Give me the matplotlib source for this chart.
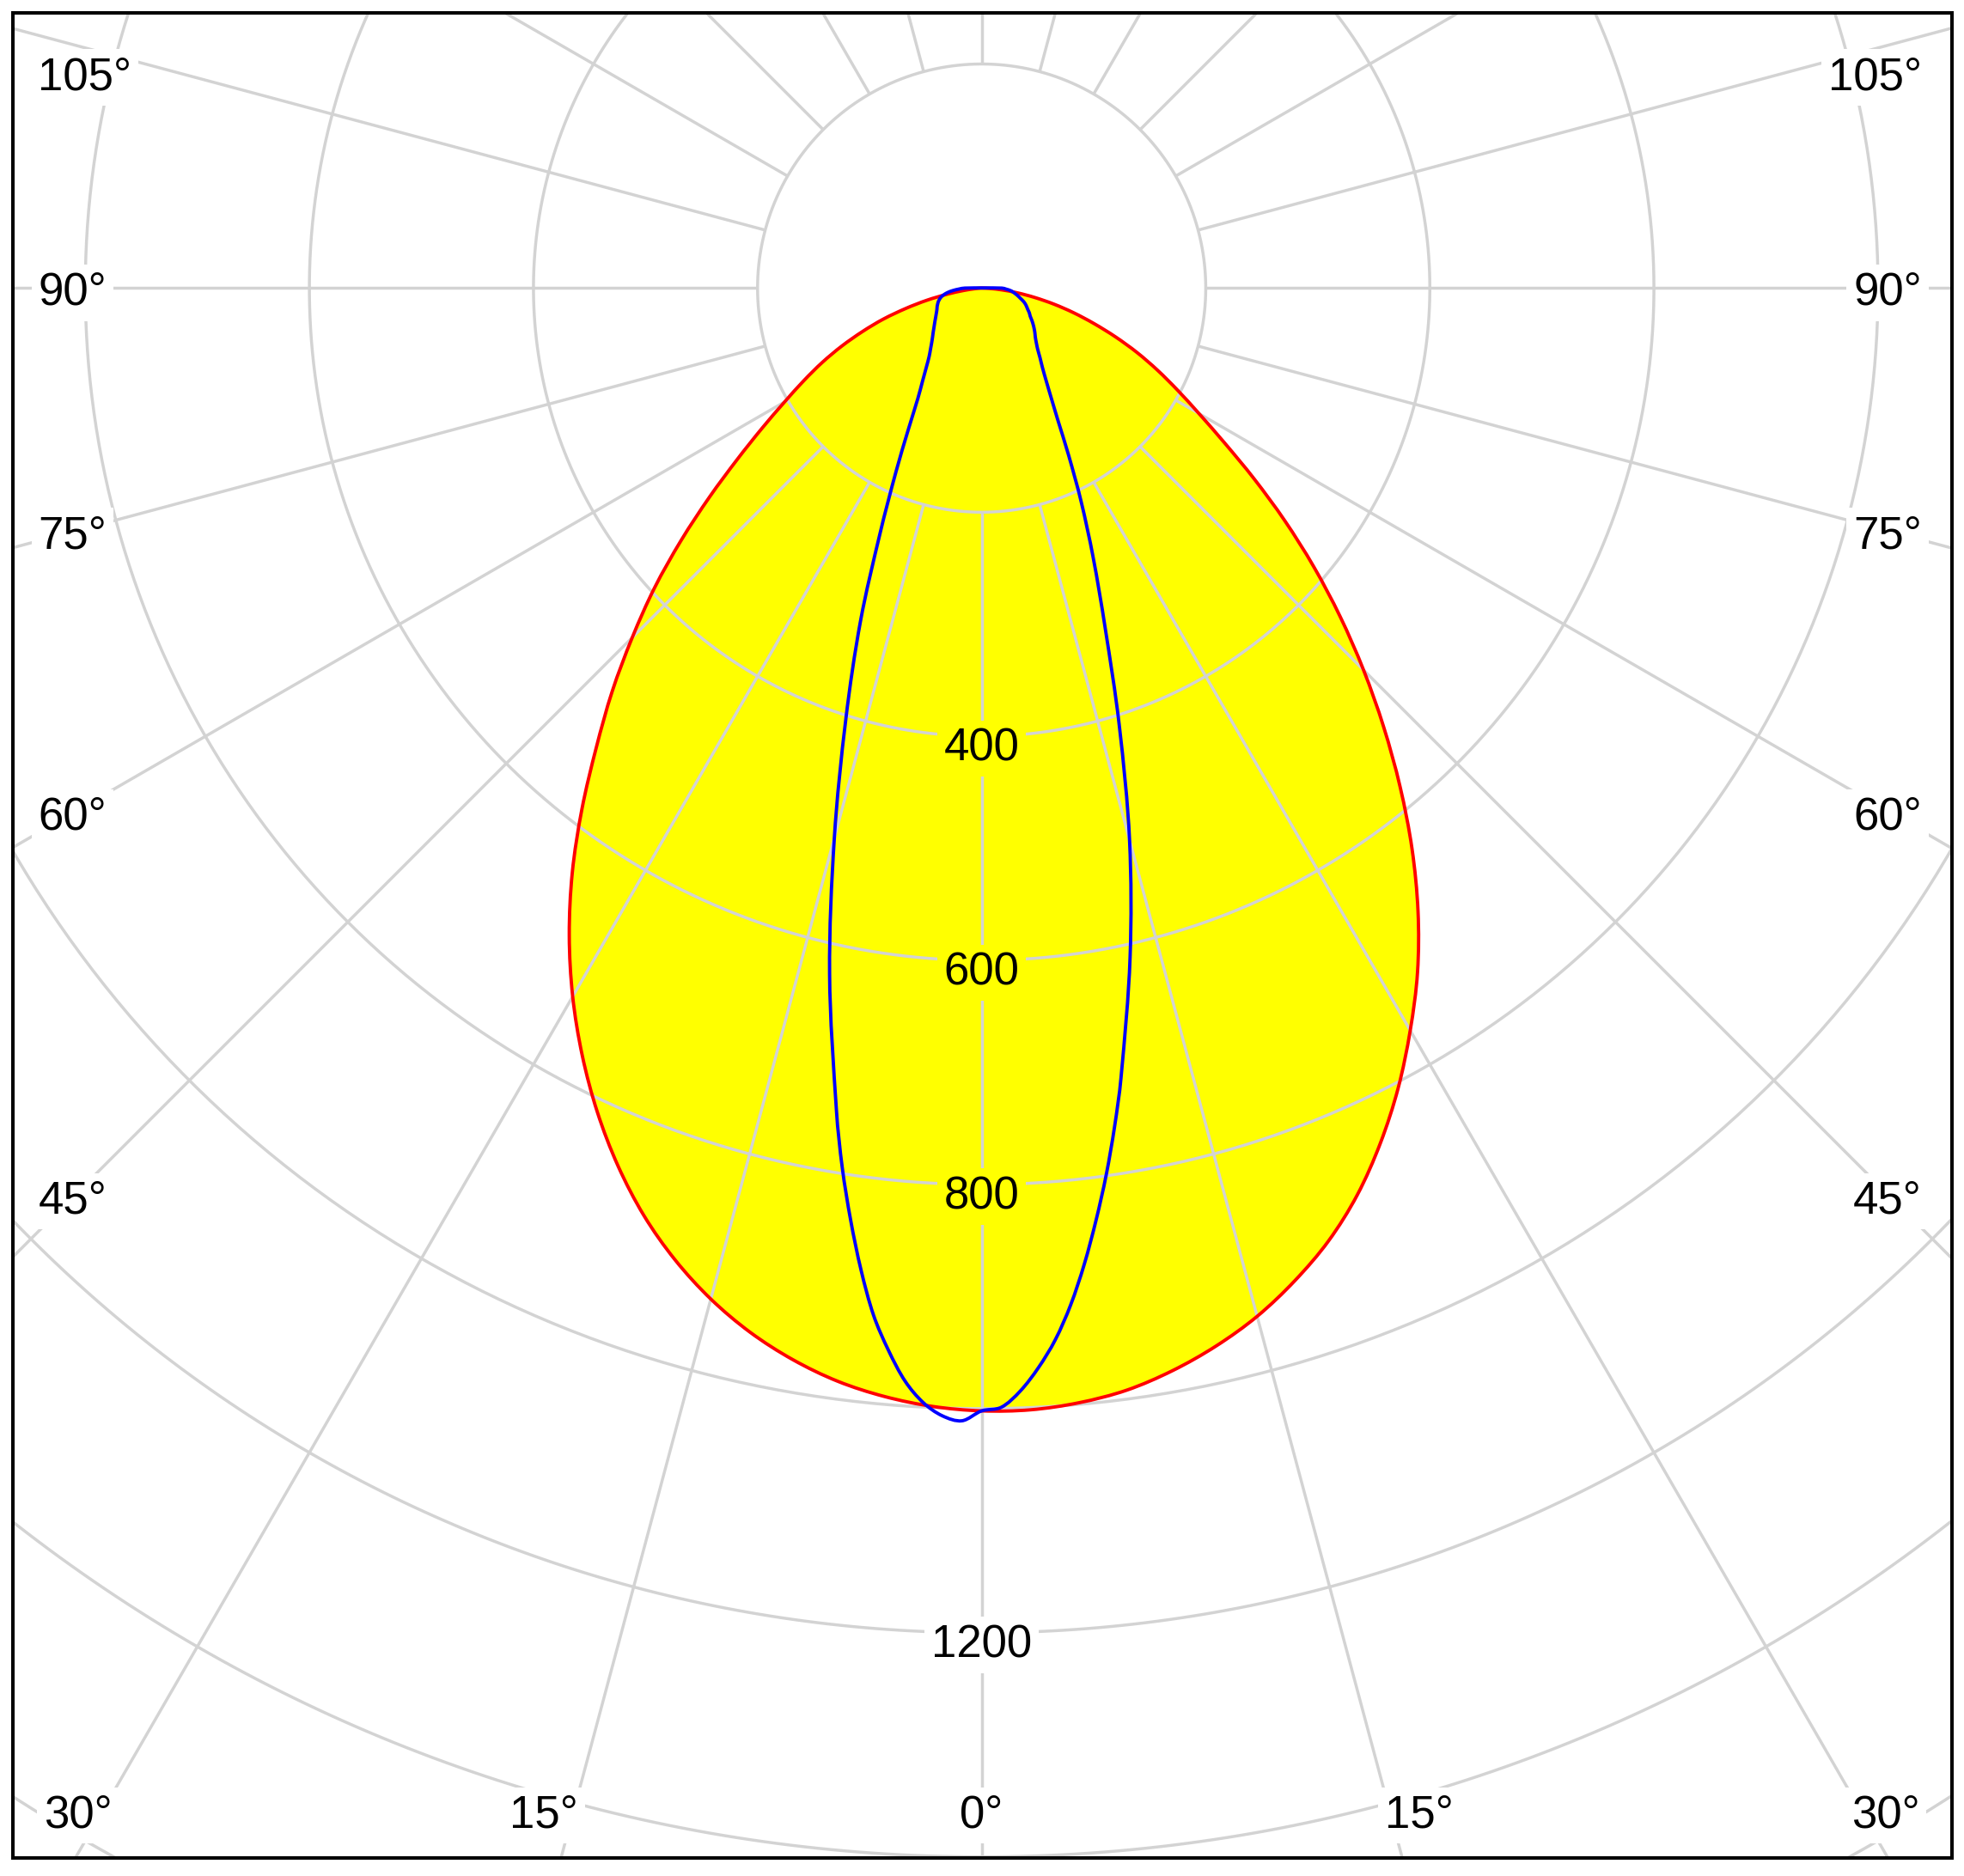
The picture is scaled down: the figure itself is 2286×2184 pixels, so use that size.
import numpy as np
import matplotlib
matplotlib.use('Agg')
import matplotlib.pyplot as plt
from matplotlib.path import Path
from matplotlib.patches import PathPatch

plt.rcParams['font.family'] = ['Liberation Sans', 'DejaVu Sans']

# gamma angles (deg from nadir) and intensities in cd
red_angles = np.arange(0, 90.1, 2.5)
red_right = [1002, 1002, 998.5, 992, 981, 967, 950, 929, 905, 876, 842, 805, 765,
             724, 679, 631, 581, 531, 482, 434, 387, 341, 297, 257, 224, 197, 173,
             150, 127, 105, 85, 66, 48, 32, 18, 7, 0]
red_left = [1002, 999, 993, 984, 971, 954.5, 934, 909.5, 881, 848, 811.5, 772, 730,
            685, 637, 586, 535, 488, 441, 396, 350, 306, 266, 232, 203, 179, 157,
            135, 113, 92, 70, 50, 31, 16, 6, 1.5, 0]

blue_angles = [0, 1, 2, 3, 4, 5, 6, 7, 8, 9, 10, 12.5, 15, 17.5, 20, 22.5, 25, 27.5,
               30, 32.5, 35, 37.5, 40, 42.5, 45, 47.5, 50, 52.5, 55, 57.5, 60, 62.5,
               65, 67.5, 70, 72.5, 75, 77.5, 80, 82.5, 85, 87.5, 90]
blue_right = [1002, 999, 985, 965, 941, 911, 876, 838, 799, 758, 716, 612, 510,
              408, 322, 260, 210, 168, 136, 115, 100, 89, 81, 74, 69, 65, 62, 59,
              56, 53, 50, 48, 45.5, 43.5, 41.5, 39, 36, 33.5, 31, 28.5, 26, 22, 18]
blue_left = [1002, 1011, 1007, 996, 978, 952, 922, 883, 840, 795, 746, 627, 508,
             403, 316, 237, 181, 141, 114, 98, 86, 77, 71, 66, 62, 58.7, 55.7, 53.1,
             50.8, 48.7, 46.9, 45.3, 44, 43, 41.8, 40.6, 39, 37.1, 34.3, 30.8, 26.1,
             20.5, 15]

rings = [200, 400, 600, 800, 1000, 1200, 1400, 1600, 1800]
ring_labels = [400, 600, 800, 1200]
spoke_angles = np.arange(0, 360, 15)
angle_labels = [0, 15, 30, 45, 60, 75, 90, 105]

xmin, xmax, ymin, ymax = -865, 866, -1401, 246


def outline(angles, right, left):
    th = np.radians(angles)
    r_r = np.array(right, dtype=float)
    r_l = np.array(left, dtype=float)
    x = np.concatenate([r_r * np.sin(th), (-r_l * np.sin(th))[::-1]])
    y = np.concatenate([-r_r * np.cos(th), (-r_l * np.cos(th))[::-1]])
    return x, y


def smooth_path(x, y):
    # closed curve through the points, drawn with cubic bezier segments
    p = np.column_stack([x, y])
    keep = np.r_[True, np.hypot(*np.diff(p, axis=0).T) > 1e-6]
    p = p[keep]
    if np.hypot(*(p[0] - p[-1])) < 1e-6:
        p = p[:-1]
    n = len(p)
    d = np.hypot(*(np.roll(p, -1, axis=0) - p).T)
    m = (np.roll(p, -1, axis=0) - np.roll(p, 1, axis=0)) / (np.roll(d, 1) + d)[:, None]
    verts = [p[0]]
    codes = [Path.MOVETO]
    for i in range(n):
        j = (i + 1) % n
        verts += [p[i] + m[i] * d[i] / 3, p[j] - m[j] * d[i] / 3, p[j]]
        codes += [Path.CURVE4] * 3
    verts.append(p[0])
    codes.append(Path.CLOSEPOLY)
    return Path(verts, codes)


fig = plt.figure(figsize=(22.86, 21.84), dpi=100)
ax = fig.add_axes([14.5 / 2286, 21 / 2184, 2257.5 / 2286, 2148.5 / 2184])
ax.set_xlim(xmin, xmax)
ax.set_ylim(ymin, ymax)
ax.set_xticks([])
ax.set_yticks([])
for s in ax.spines.values():
    s.set_linewidth(2.9)
    s.set_color('black')
    s.set_zorder(10)

grid_kw = dict(color='#d3d3d3', lw=2.5, zorder=2, solid_capstyle='butt')

red_path = smooth_path(*outline(red_angles, red_right, red_left))
blue_path = smooth_path(*outline(blue_angles, blue_right, blue_left))

ax.add_patch(PathPatch(red_path, facecolor='#ffff00', edgecolor='none', zorder=1))

t = np.linspace(0, 2 * np.pi, 721)
for r in rings:
    ax.plot(r * np.cos(t), r * np.sin(t), **grid_kw)
for a in spoke_angles:
    th = np.radians(a)
    ax.plot([200 * np.sin(th), 2200 * np.sin(th)],
            [-200 * np.cos(th), -2200 * np.cos(th)], **grid_kw)

ax.add_patch(PathPatch(red_path, facecolor='none', edgecolor='#ff0000', lw=2.8, zorder=5))
ax.add_patch(PathPatch(blue_path, facecolor='none', edgecolor='#0000ff', lw=2.8, zorder=6))

fs = 38
# ring values along the nadir line
for r in ring_labels:
    bg = '#ffff00' if r < red_right[0] else 'white'
    ax.text(0, -r - 11, str(r), fontsize=fs, ha='center', va='center', zorder=3,
            bbox=dict(boxstyle='square,pad=0.15', fc=bg, ec='none'))

# angle labels where the spokes meet the sides or the bottom
y_bot = ymin + 42
for a in angle_labels:
    th = np.radians(a)
    txt = f'{a}°'
    box = dict(boxstyle='square,pad=0.15', fc='white', ec='none')
    if a == 0:
        ax.text(0, y_bot - 4, txt, fontsize=fs, ha='center', va='center', zorder=3, bbox=box)
        continue
    hits_bottom = np.cos(th) > 0 and abs(ymin) * np.tan(th) < xmax
    for side in (-1, 1):
        if hits_bottom:
            xl = (abs(y_bot) - 15) * np.tan(th)
            ax.text(side * xl, y_bot - 4, txt, fontsize=fs,
                    ha='right' if side < 0 else 'left', va='center', zorder=3, bbox=box)
        else:
            xc = 811
            yl = -xc * np.cos(th) / np.sin(th)
            yl = min(yl, ymax - 54)
            xt = xmin + 23 if side < 0 else xmax - 27
            ax.text(xt, yl - 4, txt, fontsize=fs,
                    ha='left' if side < 0 else 'right', va='center', zorder=3, bbox=box)

fig.savefig('out.png', dpi=100)
